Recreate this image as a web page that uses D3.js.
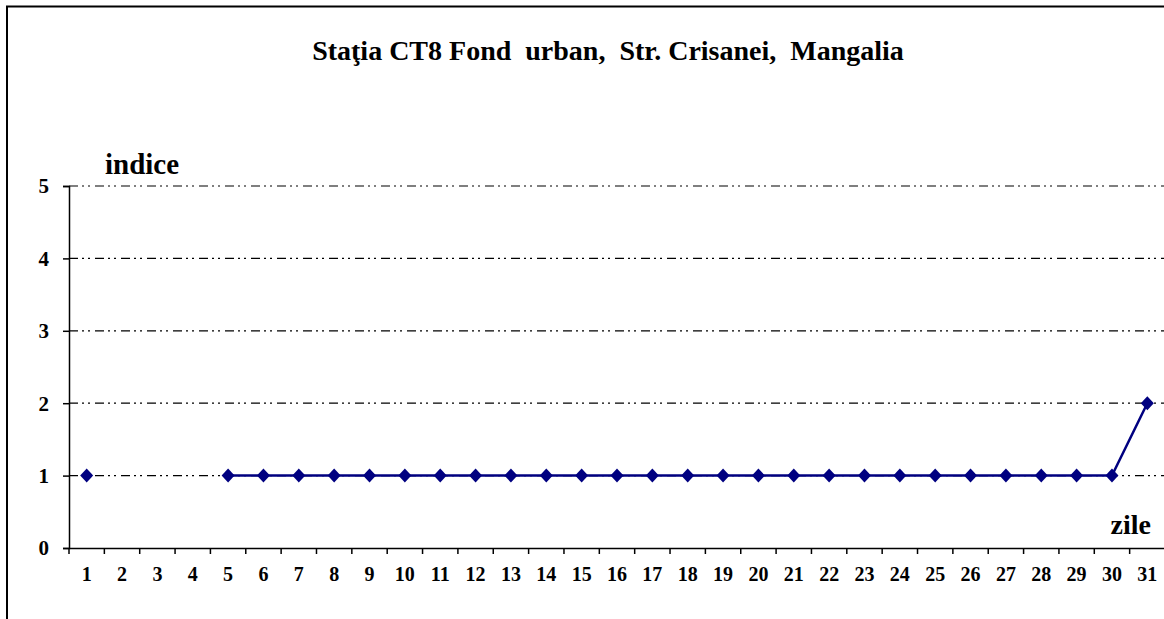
<!DOCTYPE html>
<html><head><meta charset="utf-8">
<script src="https://cdn.jsdelivr.net/npm/d3@7"></script>
<style>body{margin:0;background:#fff}svg{display:block}</style>
</head><body>
<svg id="c" width="1164" height="619"></svg>
<script>
const title = "Staţia CT8 Fond  urban,  Str. Crisanei,  Mangalia";
const days = d3.range(1, 32).map(String);
const values = [1, null, null, null, 1, 1, 1, 1, 1, 1, 1, 1, 1, 1, 1, 1, 1, 1, 1, 1, 1, 1, 1, 1, 1, 1, 1, 1, 1, 1, 2];
const yTicks = [0, 1, 2, 3, 4, 5];
const yLabel = "indice";
const xLabel = "zile";

const svg = d3.select("#c");
const font = "'Liberation Serif','Times New Roman',serif";
svg.append("rect").attr("x", 7).attr("y", 6.5).attr("width", 1200).attr("height", 700)
  .attr("fill", "none").attr("stroke", "#000").attr("stroke-width", 2);

const x = d3.scaleBand().domain(days).range([69, 1165]);
const y = d3.scaleLinear().domain([0, 5]).range([548, 186]);

// gridlines
svg.append("g").selectAll("line").data(yTicks.filter(d => d > 0)).join("line")
  .attr("x1", 69).attr("x2", 1164).attr("y1", d => y(d)).attr("y2", d => y(d))
  .attr("stroke", "#000").attr("stroke-width", 1.2).attr("stroke-dasharray", "9,4,2,4,2,5");

// y axis
const ya = svg.append("g").attr("transform", "translate(69,0)")
  .call(d3.axisLeft(y).tickValues(yTicks).tickFormat(d3.format("d")).tickSizeOuter(0).tickSize(6).tickPadding(14));
ya.select(".domain").attr("stroke-width", 1.5);
ya.selectAll(".tick line").attr("stroke-width", 1.5);
ya.selectAll("text").attr("font-family", font).attr("font-weight", "bold").attr("font-size", 21).attr("dy", "0.33em");

// x axis
const xa = svg.append("g").attr("transform", "translate(0,548)")
  .call(d3.axisBottom(x).tickSize(0).tickSizeOuter(0).tickPadding(19));
xa.select(".domain").attr("stroke-width", 1.5);
xa.selectAll("text").attr("font-family", font).attr("font-weight", "bold").attr("font-size", 20);
xa.selectAll(".bt").data(days).join("line").attr("class", "bt")
  .attr("x1", d => x(d)).attr("x2", d => x(d)).attr("y1", 0).attr("y2", 6)
  .attr("stroke", "#000").attr("stroke-width", 1.5);

// line
const pts = days.map((d, i) => ({ d, v: values[i] }));
const line = d3.line().defined(p => p.v != null)
  .x(p => x(p.d) + x.bandwidth() / 2).y(p => y(p.v));
svg.append("path").datum(pts).attr("d", line)
  .attr("fill", "none").attr("stroke", "#000080").attr("stroke-width", 2.5);
svg.append("g").selectAll("path").data(pts.filter(p => p.v != null)).join("path")
  .attr("transform", p => `translate(${x(p.d) + x.bandwidth() / 2},${y(p.v)})`)
  .attr("d", "M0,-7L6.5,0L0,7L-6.5,0Z").attr("fill", "#000080");

// texts
svg.append("text").attr("x", 608).attr("y", 60).attr("text-anchor", "middle")
  .attr("font-family", font).attr("font-weight", "bold").attr("font-size", 28)
  .style("white-space", "pre").text(title);
svg.append("text").attr("x", 105).attr("y", 174)
  .attr("font-family", font).attr("font-weight", "bold").attr("font-size", 29).text(yLabel);
svg.append("text").attr("x", 1151).attr("y", 534).attr("text-anchor", "end")
  .attr("font-family", font).attr("font-weight", "bold").attr("font-size", 28).text(xLabel);
</script>
</body></html>
